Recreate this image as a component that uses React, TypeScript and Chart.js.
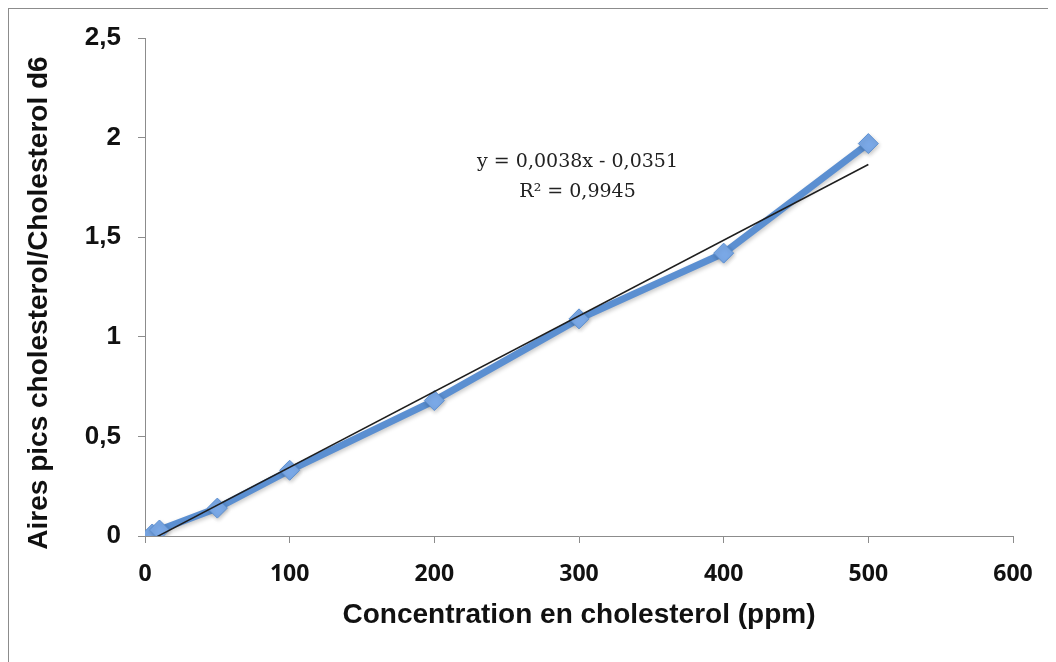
import React, { useEffect, useRef } from "react";
import { Chart, registerables } from "chart.js";

Chart.register(...registerables);

// Data
const concentrations = [5, 10, 50, 100, 200, 300, 400, 500];
const ratios = [0.01, 0.03, 0.14, 0.33, 0.68, 1.09, 1.42, 1.97];

// Linear trendline shown on the chart: y = 0,0038x - 0,0351
const trendSlope = 0.0038;
const trendIntercept = -0.0351;
const trendXRange = [5, 500];

const xTickValues = [0, 100, 200, 300, 400, 500, 600];
const yTickValues = [0, 0.5, 1, 1.5, 2, 2.5];

const equationLines = ["y = 0,0038x - 0,0351", "R\u00B2 = 0,9945"];
const equationAnchor = { x: 299, y: 1.875 };

const xTitle = "Concentration en cholesterol (ppm)";
const yTitle = "Aires pics cholesterol/Cholesterol d6";

const fmt = (v: number) => String(v).replace(".", ",");

export default function App() {
  const ref = useRef<HTMLCanvasElement | null>(null);

  useEffect(() => {
    if (!ref.current) return;

    const trendData = trendXRange.map((x) => ({ x, y: trendSlope * x + trendIntercept }));
    const seriesData = concentrations.map((x, i) => ({ x, y: ratios[i] }));

    const textPlugin = {
      id: "texts",
      afterDatasetsDraw(chart: any) {
        const { ctx, scales, chartArea } = chart;
        const px = scales.x.getPixelForValue(equationAnchor.x);
        const py = scales.y.getPixelForValue(equationAnchor.y);
        ctx.save();
        ctx.fillStyle = "#222";
        ctx.font = "19px 'DejaVu Serif'";
        ctx.textAlign = "center";
        ctx.textBaseline = "middle";
        equationLines.forEach((line, i) => ctx.fillText(line, px, py + i * 30));
        ctx.restore();

        // vertical axis title
        ctx.save();
        ctx.fillStyle = "#111";
        ctx.font = "bold 28px 'Liberation Sans'";
        ctx.textAlign = "center";
        ctx.textBaseline = "middle";
        ctx.translate(30, (chartArea.top + chartArea.bottom) / 2 + 16);
        ctx.rotate(-Math.PI / 2);
        ctx.fillText(yTitle, 0, 0);
        ctx.restore();
      },
    };

    const shadowPlugin = {
      id: "lineShadow",
      beforeDatasetDraw(chart: any, args: any) {
        if (args.index === 1) {
          const ctx = chart.ctx;
          ctx.save();
          ctx.shadowColor = "rgba(0,0,0,0.22)";
          ctx.shadowBlur = 4;
          ctx.shadowOffsetX = 1;
          ctx.shadowOffsetY = 2;
        }
      },
      afterDatasetDraw(chart: any, args: any) {
        if (args.index === 1) chart.ctx.restore();
      },
    };

    const chart = new Chart(ref.current, {
      type: "scatter",
      data: {
        datasets: [
          {
            label: "Trendline",
            data: trendData,
            showLine: true,
            borderColor: "#1e1e1e",
            borderWidth: 1.5,
            pointRadius: 0,
            fill: false,
          },
          {
            label: "Cholesterol",
            data: seriesData,
            showLine: true,
            borderColor: "#5b8fd1",
            borderWidth: 7,
            pointStyle: "rectRot",
            pointRadius: 10,
            pointBackgroundColor: "#7aa8e6",
            pointBorderColor: "#5b8fd1",
            pointBorderWidth: 1,
            fill: false,
          },
        ],
      },
      options: {
        animation: false,
        responsive: false,
        maintainAspectRatio: false,
        layout: { padding: { top: 29, right: 43, bottom: 0, left: 0 } },
        plugins: { legend: { display: false }, tooltip: { enabled: false } },
        scales: {
          x: {
            type: "linear",
            min: 0,
            max: 600,
            afterFit: (s: any) => {
              s.height = 126;
              s.paddingLeft = 0;
              s.paddingRight = 0;
            },
            afterBuildTicks: (s: any) => {
              s.ticks = xTickValues.map((v) => ({ value: v }));
            },
            ticks: {
              color: "#111",
              font: { family: "'Open Sans'", size: 23, weight: "bold" },
              padding: 18,
              maxRotation: 0,
              callback: (v: any) => fmt(Number(v)),
            },
            grid: {
              display: true,
              drawOnChartArea: false,
              drawTicks: true,
              tickLength: 7,
              color: "#8c8c8c",
            },
            border: { display: true, color: "#8c8c8c", width: 1 },
            title: {
              display: true,
              text: xTitle,
              color: "#111",
              font: { family: "'Liberation Sans'", size: 28, weight: "bold" },
              padding: { top: 0, bottom: 30 },
            },
          },
          y: {
            type: "linear",
            min: 0,
            max: 2.5,
            afterFit: (s: any) => {
              s.width = 136;
              s.paddingTop = 0;
              s.paddingBottom = 0;
            },
            afterBuildTicks: (s: any) => {
              s.ticks = yTickValues.map((v) => ({ value: v }));
            },
            ticks: {
              color: "#111",
              font: { family: "'Liberation Sans'", size: 26, weight: "bold" },
              padding: 17,
              callback: (v: any) => fmt(Number(v)),
            },
            grid: {
              display: true,
              drawOnChartArea: false,
              drawTicks: true,
              tickLength: 7,
              color: "#8c8c8c",
            },
            border: { display: true, color: "#8c8c8c", width: 1 },
            title: { display: false, text: yTitle },
          },
        },
      },
      plugins: [textPlugin, shadowPlugin],
    } as any);

    return () => chart.destroy();
  }, []);

  return (
    <div
      style={{
        width: 1048,
        height: 654,
        borderTop: "1px solid #8c8c8c",
        borderLeft: "1px solid #8c8c8c",
        boxSizing: "border-box",
        background: "#fff",
      }}
    >
      <canvas ref={ref} width={1047} height={653} style={{ display: "block", width: 1047, height: 653 }} />
    </div>
  );
}
